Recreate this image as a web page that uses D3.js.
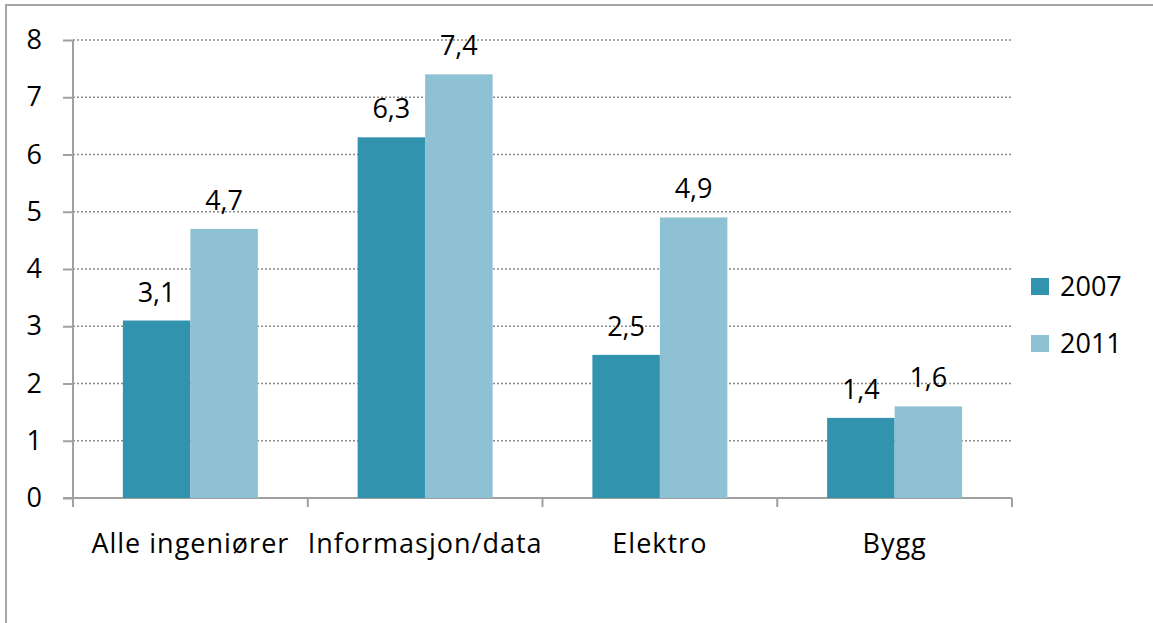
<!DOCTYPE html>
<html><head><meta charset="utf-8">
<script src="https://cdn.jsdelivr.net/npm/d3@7"></script>
<style>body{margin:0;background:#fff;} svg{display:block;font-family:"Open Sans",Lato,sans-serif;}</style>
</head><body>
<svg id="c" width="1153" height="623"></svg>
<script>
const categories = ["Alle ingeniører", "Informasjon/data", "Elektro", "Bygg"];
const seriesNames = ["2007", "2011"];
const values2007 = [3.1, 6.3, 2.5, 1.4];
const values2011 = [4.7, 7.4, 4.9, 1.6];
const yTicks = [0, 1, 2, 3, 4, 5, 6, 7, 8];
const colors = ["#3293ae", "#8fc1d4"];

const svg = d3.select("#c");
svg.append("rect").attr("x",6).attr("y",5).attr("width",1160).attr("height",640)
  .attr("fill","none").attr("stroke","#a6a6a6").attr("stroke-width",2);

const L=73, R=1012, T=40, B=498;
const x0 = d3.scaleBand().domain(categories).range([L,R]).paddingInner(0.425).paddingOuter(0.2125);
const x1 = d3.scaleBand().domain(seriesNames).range([0,x0.bandwidth()]);
const xEdge = d3.scaleBand().domain(categories).range([L,R]);
const y = d3.scaleLinear().domain([0,8]).range([B,T]);

// gridlines
svg.append("g").selectAll("line").data(yTicks.filter(d=>d>0)).join("line")
  .attr("x1",L).attr("x2",R).attr("y1",d=>y(d)).attr("y2",d=>y(d))
  .attr("stroke","#8c8c8c").attr("stroke-width",1.3).attr("stroke-dasharray","2,2");

const fs = 27;
// y axis
const ya = svg.append("g").attr("transform",`translate(${L},0)`)
  .call(d3.axisLeft(y).tickValues(yTicks).tickSize(10).tickPadding(21).tickFormat(d3.format("d")));
ya.select(".domain").attr("stroke","#a0a0a0").attr("stroke-width",2).attr("d",`M0,${T}V${B}`);
ya.selectAll(".tick line").attr("stroke","#a0a0a0").attr("stroke-width",2);
ya.selectAll(".tick text").attr("font-size",fs).attr("fill","#000").attr("font-family","Open Sans");

// x axis
const xg = svg.append("g");
xg.append("line").attr("x1",L-10).attr("x2",R).attr("y1",B).attr("y2",B).attr("stroke","#a0a0a0").attr("stroke-width",2);
const edges = categories.map(c=>xEdge(c)).concat([R]);
xg.selectAll("line.t").data(edges).join("line").attr("class","t")
  .attr("x1",d=>d).attr("x2",d=>d).attr("y1",B).attr("y2",B+9).attr("stroke","#a0a0a0").attr("stroke-width",2);
xg.selectAll("text").data(categories).join("text")
  .attr("x",d=>xEdge(d)+xEdge.bandwidth()/2).attr("y",553).attr("text-anchor","middle")
  .attr("font-size",fs).attr("letter-spacing",1).attr("fill","#000").text(d=>d);

// bars
const data = categories.map((c,i)=>({c, vals:[{s:"2007",v:values2007[i]},{s:"2011",v:values2011[i]}]}));
const grp = svg.append("g").selectAll("g").data(data).join("g").attr("transform",d=>`translate(${x0(d.c)},0)`);
grp.selectAll("rect").data(d=>d.vals).join("rect")
  .attr("x",d=>x1(d.s)).attr("width",x1.bandwidth()).attr("y",d=>y(d.v)).attr("height",d=>B-y(d.v))
  .attr("fill",(d,i)=>colors[i]);
grp.selectAll("text").data(d=>d.vals).join("text")
  .attr("x",d=>x1(d.s)+x1.bandwidth()/2).attr("y",d=>y(d.v)-19).attr("text-anchor","middle")
  .attr("font-size",fs).attr("fill","#000").text(d=>String(d.v).replace(".",","));

// legend
const lg = svg.append("g").selectAll("g").data(seriesNames).join("g")
  .attr("transform",(d,i)=>`translate(1031,${278+i*57})`);
lg.append("rect").attr("width",18).attr("height",17).attr("fill",(d,i)=>colors[i]);
lg.append("text").attr("x",29).attr("y",18).attr("font-size",fs).attr("fill","#000").text(d=>d);
</script>
</body></html>
